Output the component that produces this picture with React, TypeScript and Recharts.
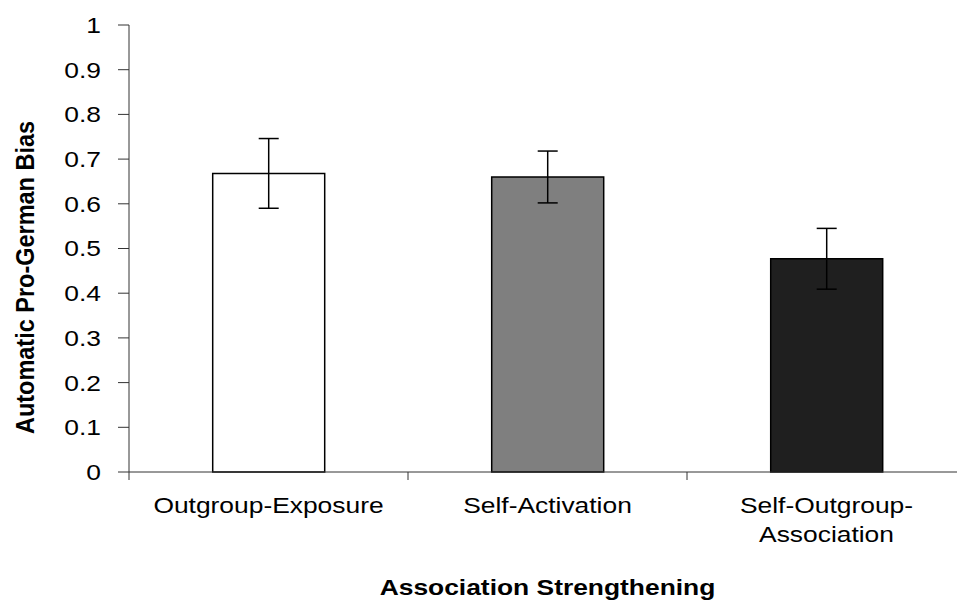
import { BarChart, Bar, Cell, XAxis, YAxis, ErrorBar, Label } from 'recharts';

const categories = ['Outgroup-Exposure', 'Self-Activation', 'Self-Outgroup-Association'];
const categoryLines = [['Outgroup-Exposure'], ['Self-Activation'], ['Self-Outgroup-', 'Association']];
const biasValues = [0.668, 0.66, 0.477];
const errorValues = [0.078, 0.058, 0.068];
const barColors = ['#ffffff', '#7f7f7f', '#1f1f1f'];
const yTicks = [0, 0.1, 0.2, 0.3, 0.4, 0.5, 0.6, 0.7, 0.8, 0.9, 1];

const data = categories.map((name, i) => ({ name, bias: biasValues[i], err: errorValues[i] }));

const FONT = '"Liberation Sans", Arial, sans-serif';
const STRETCH = 1.2;

function ValueTick({ x, y, payload }: any) {
  return (
    <g transform={`translate(${x},${y}) scale(${STRETCH},1)`}>
      <text x={0} y={0} dy="0.36em" textAnchor="end" fontSize={22} fontFamily={FONT} fill="#000">
        {String(+Number(payload.value).toFixed(1))}
      </text>
    </g>
  );
}

function CategoryTick({ x, y, payload, index }: any) {
  const lines = categoryLines[index] || [String(payload.value)];
  const off = payload.offset ?? 0;
  return (
    <g>
      <line x1={x - off} y1={y} x2={x - off} y2={y + 8} stroke="#333" strokeWidth={1} />
      <g transform={`translate(${x},${y + 41}) scale(${STRETCH},1)`}>
        <text x={0} y={0} textAnchor="middle" fontSize={22} fontFamily={FONT} fill="#000">
          {lines.map((l: string, i: number) => (
            <tspan key={i} x={0} dy={i === 0 ? 0 : 29}>{l}</tspan>
          ))}
        </text>
      </g>
    </g>
  );
}

function XTitle({ viewBox }: any) {
  const cx = viewBox.x + viewBox.width / 2;
  return (
    <g transform={`translate(${cx},${viewBox.y + 123}) scale(${STRETCH},1)`}>
      <text x={0} y={0} textAnchor="middle" fontSize={22} fontWeight="bold" fontFamily={FONT} fill="#000">
        Association Strengthening
      </text>
    </g>
  );
}

function YTitle({ viewBox }: any) {
  const cy = viewBox.y + viewBox.height / 2 + 29;
  return (
    <g transform={`translate(34,${cy}) scale(1.08,1) rotate(-90)`}>
      <text x={0} y={0} textAnchor="middle" fontSize={23.5} fontWeight="bold" fontFamily={FONT} fill="#000">
        Automatic Pro-German Bias
      </text>
    </g>
  );
}

export default function App() {
  return (
    <div style={{ position: 'absolute', left: 0, top: 0, width: 957, height: 610, overflow: 'hidden', background: '#fff' }}>
      <BarChart
        width={980}
        height={610}
        data={data}
        margin={{ top: 25, right: 14, bottom: 0, left: 0 }}
        barCategoryGap="30%"
      >
        <XAxis
          dataKey="name"
          height={138}
          tickLine={false}
          tickSize={0}
          tickMargin={0}
          interval={0}
          axisLine={{ stroke: '#333', strokeWidth: 1 }}
          tick={<CategoryTick />}
        >
          <Label content={<XTitle />} />
        </XAxis>
        <YAxis
          width={129}
          domain={[0, 1]}
          ticks={yTicks}
          interval={0}
          tickSize={11}
          tickMargin={17}
          axisLine={{ stroke: '#333', strokeWidth: 1 }}
          tickLine={{ stroke: '#333', strokeWidth: 1 }}
          tick={<ValueTick />}
        >
          <Label content={<YTitle />} />
        </YAxis>
        <Bar dataKey="bias" stroke="#000" strokeWidth={1.5} isAnimationActive={false}>
          {data.map((_, i) => (
            <Cell key={i} fill={barColors[i]} />
          ))}
          <ErrorBar dataKey="err" width={10} stroke="#000" strokeWidth={1.5} isAnimationActive={false} />
        </Bar>
      </BarChart>
    </div>
  );
}
